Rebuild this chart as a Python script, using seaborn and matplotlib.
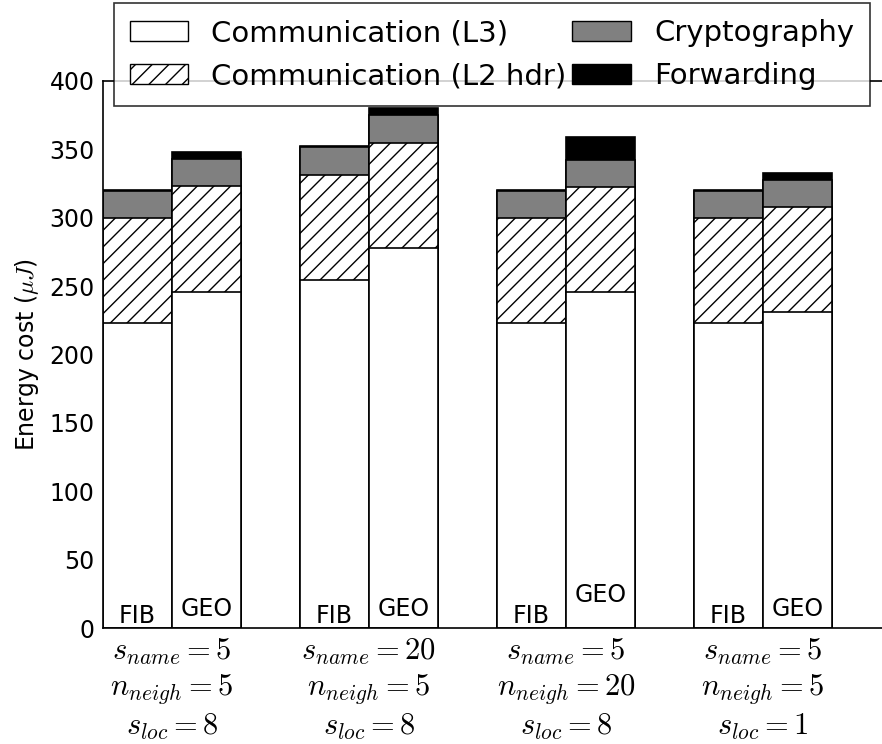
import matplotlib

matplotlib.use("Agg")
import matplotlib.pyplot as plt
import matplotlib.patches as mpatches
import pandas as pd
import seaborn as sns

# values (uJ)
configs = ["cfg1", "cfg2", "cfg3", "cfg4"]
schemes = ["FIB", "GEO"]
tick_labels = [
    "$s_{name}=5$\n$n_{neigh}=5$\n$s_{loc}=8$",
    "$s_{name}=20$\n$n_{neigh}=5$\n$s_{loc}=8$",
    "$s_{name}=5$\n$n_{neigh}=20$\n$s_{loc}=8$",
    "$s_{name}=5$\n$n_{neigh}=5$\n$s_{loc}=1$",
]
comm_l3 = {"FIB": [223, 254.5, 223, 223], "GEO": [246, 278, 246, 231]}
comm_l2 = {"FIB": [76.5, 77, 76.5, 76.5], "GEO": [77, 77, 76.5, 76.5]}
crypto = {"FIB": [20, 20, 20, 20], "GEO": [20, 20, 20, 20]}
forwarding = {"FIB": [1, 1, 1, 1], "GEO": [5, 5, 16.5, 5]}
label_y = {"FIB": [3.5, 3.5, 3.5, 3.5], "GEO": [9, 9, 19, 9]}

sns.set_style("white")
plt.rcParams.update({
    "font.family": ["DejaVu Sans"],
    "mathtext.fontset": "cm",
    "hatch.linewidth": 1.0,
    "axes.edgecolor": "black",
    "axes.linewidth": 1.2,
    "text.color": "black",
    "axes.labelcolor": "black",
    "xtick.color": "black",
    "ytick.color": "black",
})

rows = []
for s in schemes:
    for i, c in enumerate(configs):
        l3 = comm_l3[s][i]
        l2 = l3 + comm_l2[s][i]
        cr = l2 + crypto[s][i]
        fw = cr + forwarding[s][i]
        rows.append({"config": c, "scheme": s, "l3": l3, "l2": l2, "crypto": cr, "fwd": fw})
df = pd.DataFrame(rows)

fig = plt.figure(figsize=(8.82, 7.44), dpi=100)
ax = fig.add_axes([103 / 882, 1 - 628 / 744, 788 / 882, 547 / 744])

# stacked bars: draw cumulative tops back to front
layers = [
    ("fwd", "black", None),
    ("crypto", "#808080", None),
    ("l2", "white", "//"),
    ("l3", "white", None),
]
for col, color, hatch in layers:
    sns.barplot(data=df, x="config", y=col, hue="scheme", order=configs, hue_order=schemes,
                palette={"FIB": color, "GEO": color}, width=0.7, edgecolor="black",
                linewidth=1.2, hatch=hatch, errorbar=None, legend=False, ax=ax)

for j, s in enumerate(schemes):
    for i in range(len(configs)):
        xpos = i + (j - 0.5) * 0.35
        ax.text(xpos, label_y[s][i], s, ha="center", va="baseline", fontsize=17)

ax.set_xlim(-0.35, 3.65)
ax.set_ylim(0, 400)
ax.set_yticks(range(0, 401, 50))
ax.set_xticks(range(len(configs)))
ax.set_xticklabels(tick_labels, fontsize=22, linespacing=1.25)
ax.set_xlabel("")
ax.set_ylabel(r"Energy cost ($\mu J$)", fontsize=17, labelpad=6)
ax.tick_params(axis="y", direction="in", length=6, width=1, labelsize=17, pad=6)
ax.tick_params(axis="x", length=0, pad=6)

handles = [
    mpatches.Patch(facecolor="white", edgecolor="black", label="Communication (L3)"),
    mpatches.Patch(facecolor="white", edgecolor="black", hatch="//", label="Communication (L2 hdr)"),
    mpatches.Patch(facecolor="#808080", edgecolor="black", label="Cryptography"),
    mpatches.Patch(facecolor="black", edgecolor="black", label="Forwarding"),
]
leg = fig.legend(handles=handles, ncol=2, loc="upper center", bbox_to_anchor=(492 / 882, 0.996),
                 fontsize=21, frameon=True, fancybox=False, edgecolor="black",
                 handlelength=2.0, handleheight=0.7, columnspacing=0.2, handletextpad=0.8,
                 borderpad=0.55, labelspacing=0.52, borderaxespad=0)
leg.get_frame().set_linewidth(1.2)
leg.set_zorder(10)

fig.savefig("out.png", dpi=100)
